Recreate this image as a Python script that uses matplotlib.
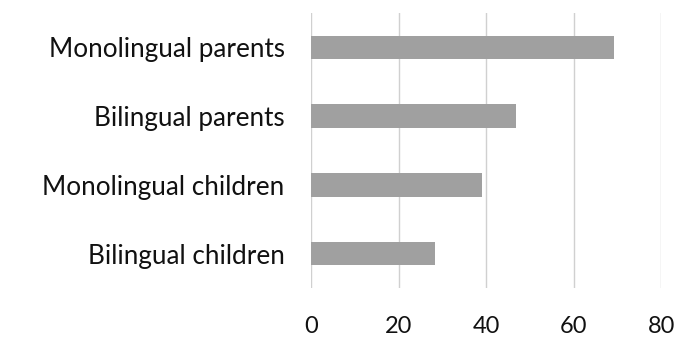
import matplotlib
matplotlib.use("Agg")
import matplotlib.pyplot as plt

categories = ["Monolingual parents", "Bilingual parents", "Monolingual children", "Bilingual children"]
values = [69.2, 46.9, 39.0, 28.4]
xticks = [0, 20, 40, 60, 80]

plt.rcParams["font.family"] = ["Lato", "DejaVu Sans"]

fig = plt.figure(figsize=(6.96, 3.48), dpi=100)
ax = fig.add_axes([0.4468, 0.1724, 0.5034, 0.7902])

ypos = list(range(len(categories)))
ax.barh(ypos, values, height=0.34, color="#a0a0a0", zorder=2)

ax.set_xlim(0, 80)
ax.set_ylim(len(categories) - 0.5, -0.5)
ax.set_xticks(xticks)
ax.set_xticklabels([str(t) for t in xticks])
ax.set_yticks(ypos)
ax.set_yticklabels(categories)

ax.grid(axis="x", color="#d0d0d0", linewidth=1.0, zorder=0)
for s in ax.spines.values():
    s.set_visible(False)
ax.tick_params(axis="both", length=0, colors="#111111")
ax.tick_params(axis="y", labelsize=18.8, pad=19)
ax.tick_params(axis="x", labelsize=17, pad=20)

fig.savefig("out.png", dpi=100)
